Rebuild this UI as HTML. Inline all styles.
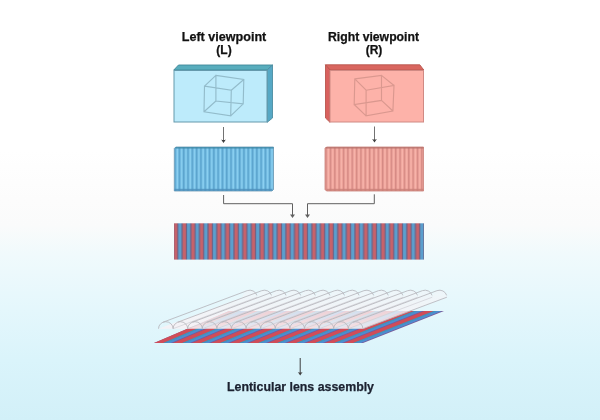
<!DOCTYPE html>
<html><head><meta charset="utf-8"><style>
html,body{margin:0;padding:0;}
body{width:600px;height:420px;overflow:hidden;position:relative;
background:linear-gradient(to bottom,#ffffff 0px,#ffffff 150px,#fcfcfc 200px,#fafbfb 225px,#f0fafc 255px,#e4f7fc 310px,#daf4fb 360px,#d2f0f8 420px);
font-family:"Liberation Sans",sans-serif;}
svg{position:absolute;left:0;top:0;will-change:transform;}
text{font-family:"Liberation Sans",sans-serif;font-weight:bold;stroke-width:0.25px;paint-order:stroke;}
</style></head><body>
<svg width="600" height="420" viewBox="0 0 600 420">
<text x="224" y="41" font-size="12" fill="#111" stroke="#111" text-anchor="middle" textLength="84.5" lengthAdjust="spacingAndGlyphs">Left viewpoint</text>
<text x="224" y="53.5" font-size="12" fill="#111" stroke="#111" text-anchor="middle" >(L)</text>
<text x="373.5" y="41" font-size="12" fill="#111" stroke="#111" text-anchor="middle" textLength="91" lengthAdjust="spacingAndGlyphs">Right viewpoint</text>
<text x="374" y="53.5" font-size="12" fill="#111" stroke="#111" text-anchor="middle" >(R)</text>
<polygon points="173.8,70 178.5,65 272.5,65 267.2,70" fill="#58adbd" stroke="#3f8898" stroke-width="0.9" stroke-linejoin="round"/>
<polygon points="267.2,70 272.5,65 272.5,118 267.2,122.3" fill="#56a8c5" stroke="#4d8da2" stroke-width="0.9" stroke-linejoin="round"/>
<rect x="174" y="70.5" width="93" height="51.5" fill="#bdebfb" stroke="#6599ac" stroke-width="1"/>
<path d="M204.5,86.1 L231.3,90.2 L230.7,115.8 L204,111.7 Z M215.9,75.4 L243.8,79.5 L243.2,103.9 L215.9,101 Z M204.5,86.1 L215.9,75.4 M231.3,90.2 L243.8,79.5 M230.7,115.8 L243.2,103.9 M204,111.7 L215.9,101 " fill="none" stroke="#93bccb" stroke-width="1.15"/>
<polygon points="325.5,64.8 419.8,64.8 423.8,70 330,70" fill="#d9665f" stroke="#b8574e" stroke-width="0.9" stroke-linejoin="round"/>
<polygon points="325.5,64.8 330,70 330,122.3 325.5,118" fill="#d8615e" stroke="#b8574e" stroke-width="0.9" stroke-linejoin="round"/>
<rect x="330" y="70.5" width="93.5" height="51.5" fill="#fdb2a9" stroke="#d08a84" stroke-width="1"/>
<path d="M366.1,90.2 L394,85.5 L392.9,111 L366.1,115.8 Z M354.8,78.9 L381.5,75.4 L381.5,100.4 L354.2,104.5 Z M366.1,90.2 L354.8,78.9 M394,85.5 L381.5,75.4 M392.9,111 L381.5,100.4 M366.1,115.8 L354.2,104.5 " fill="none" stroke="#da988f" stroke-width="1.15"/>
<line x1="223.5" y1="127" x2="223.5" y2="141" stroke="#6a6a6a" stroke-width="0.95"/>
<path d="M221.1,139.6 Q223.5,140.6 225.9,139.6 L223.5,143 Z" fill="#404040"/>
<line x1="374.5" y1="126.5" x2="374.5" y2="140.5" stroke="#6a6a6a" stroke-width="0.95"/>
<path d="M372.1,139.1 Q374.5,140.1 376.9,139.1 L374.5,142.5 Z" fill="#404040"/>
<defs><pattern id="pb" patternUnits="userSpaceOnUse" x="174.5" y="0" width="4.3" height="10"><rect width="4.3" height="10" fill="#72bce2"/><rect x="0" width="1.3" height="10" fill="#5ba3cd"/><rect x="2.2" width="1.2" height="10" fill="#8dd1f2"/></pattern><pattern id="pr" patternUnits="userSpaceOnUse" x="325.5" y="0" width="4.35" height="10"><rect width="4.35" height="10" fill="#eea39a"/><rect x="0" width="1.3" height="10" fill="#d58a84"/><rect x="2.2" width="1.2" height="10" fill="#f8b5ac"/></pattern><pattern id="pc" patternUnits="userSpaceOnUse" x="173.52" y="0" width="8.64" height="10"><rect width="8.64" height="10" fill="#c8626a"/><rect x="4.32" width="4.32" height="10" fill="#5b9fce"/><rect x="3.7" width="1.2" height="10" fill="#6e6285"/><rect x="8.0" width="1.2" height="10" fill="#6e6285"/><rect x="0" width="0.6" height="10" fill="#6e6285"/></pattern></defs>
<path d="M174.3,148.5 L175.8,147 L273.5,147 L273.5,189.5 L272,191 L174.3,191 Z" fill="url(#pb)" stroke="#6a97b3" stroke-width="0.8"/>
<rect x="175.5" y="147" width="98" height="1.6" fill="#3f8aa8" opacity="0.8"/>
<rect x="174.5" y="188.8" width="98" height="2" fill="#4d8fba" opacity="0.8"/>
<path d="M326.5,147 L423.5,147 L423.5,191 L326.5,191 L325,189.5 L325,148.5 Z" fill="url(#pr)" stroke="#c98078" stroke-width="0.8"/>
<rect x="325.5" y="147" width="98" height="1.6" fill="#b8746e" opacity="0.8"/>
<rect x="326.5" y="188.8" width="97" height="2" fill="#c98078" opacity="0.8"/>
<path d="M223.6,195 L223.6,203.7 L292.5,203.7 L292.5,216" fill="none" stroke="#606060" stroke-width="1"/>
<polygon points="290,214.5 295,214.5 292.5,218" fill="#606060"/>
<path d="M374.3,194.3 L374.3,203.7 L307.5,203.7 L307.5,216" fill="none" stroke="#606060" stroke-width="1"/>
<polygon points="305,214.5 310,214.5 307.5,218" fill="#606060"/>
<rect x="174" y="223.3" width="250" height="36.3" fill="url(#pc)"/>
<polygon points="154,343 363,343 444,311 229,311" fill="#7a5a98"/>
<polygon points="154,343 163.59,343 238.87,311 229,311" fill="#d04c58"/>
<polygon points="163.12,343 166.25,343 241.61,311 238.38,311" fill="#3a9cbc"/>
<polygon points="165.78,343 170.81,343 246.3,311 241.12,311" fill="#4a8fd2"/>
<polygon points="173,343 182.59,343 258.42,311 248.55,311" fill="#d04c58"/>
<polygon points="182.12,343 185.25,343 261.15,311 257.93,311" fill="#3a9cbc"/>
<polygon points="184.78,343 189.81,343 265.84,311 260.66,311" fill="#4a8fd2"/>
<polygon points="192,343 201.59,343 277.96,311 268.09,311" fill="#d04c58"/>
<polygon points="201.12,343 204.25,343 280.7,311 277.47,311" fill="#3a9cbc"/>
<polygon points="203.78,343 208.81,343 285.39,311 280.21,311" fill="#4a8fd2"/>
<polygon points="211,343 220.59,343 297.51,311 287.64,311" fill="#d04c58"/>
<polygon points="220.12,343 223.25,343 300.24,311 297.02,311" fill="#3a9cbc"/>
<polygon points="222.78,343 227.81,343 304.93,311 299.75,311" fill="#4a8fd2"/>
<polygon points="230,343 239.6,343 317.05,311 307.18,311" fill="#d04c58"/>
<polygon points="239.12,343 242.25,343 319.79,311 316.56,311" fill="#3a9cbc"/>
<polygon points="241.78,343 246.81,343 324.48,311 319.3,311" fill="#4a8fd2"/>
<polygon points="249,343 258.6,343 336.6,311 326.73,311" fill="#d04c58"/>
<polygon points="258.12,343 261.25,343 339.33,311 336.11,311" fill="#3a9cbc"/>
<polygon points="260.78,343 265.81,343 344.02,311 338.85,311" fill="#4a8fd2"/>
<polygon points="268,343 277.6,343 356.14,311 346.27,311" fill="#d04c58"/>
<polygon points="277.12,343 280.25,343 358.88,311 355.65,311" fill="#3a9cbc"/>
<polygon points="279.78,343 284.82,343 363.57,311 358.39,311" fill="#4a8fd2"/>
<polygon points="287,343 296.6,343 375.69,311 365.82,311" fill="#d04c58"/>
<polygon points="296.12,343 299.25,343 378.43,311 375.2,311" fill="#3a9cbc"/>
<polygon points="298.78,343 303.82,343 383.12,311 377.94,311" fill="#4a8fd2"/>
<polygon points="306,343 315.6,343 395.23,311 385.36,311" fill="#d04c58"/>
<polygon points="315.12,343 318.25,343 397.97,311 394.75,311" fill="#3a9cbc"/>
<polygon points="317.78,343 322.81,343 402.66,311 397.48,311" fill="#4a8fd2"/>
<polygon points="325,343 334.6,343 414.78,311 404.91,311" fill="#d04c58"/>
<polygon points="334.12,343 337.25,343 417.52,311 414.29,311" fill="#3a9cbc"/>
<polygon points="336.78,343 341.81,343 422.21,311 417.03,311" fill="#4a8fd2"/>
<polygon points="344,343 353.6,343 434.33,311 424.45,311" fill="#d04c58"/>
<polygon points="353.12,343 356.25,343 437.06,311 433.84,311" fill="#3a9cbc"/>
<polygon points="355.78,343 360.81,343 441.75,311 436.57,311" fill="#4a8fd2"/>
<defs><linearGradient id="lg" gradientUnits="userSpaceOnUse" x1="0" y1="290" x2="0" y2="329"><stop offset="0" stop-color="#f4f4f7" stop-opacity="0.45"/><stop offset="0.5" stop-color="#f5f3f6" stop-opacity="0.8"/><stop offset="1" stop-color="#f7f1f4" stop-opacity="0.9"/></linearGradient></defs>
<path d="M158.5,328.7 L242.5,297.2 A7.3,7 0 0 1 257.1,297.2 A7.3,7 0 0 1 271.7,297.2 A7.3,7 0 0 1 286.3,297.2 A7.3,7 0 0 1 300.9,297.2 A7.3,7 0 0 1 315.5,297.2 A7.3,7 0 0 1 330.1,297.2 A7.3,7 0 0 1 344.7,297.2 A7.3,7 0 0 1 359.3,297.2 A7.3,7 0 0 1 373.9,297.2 A7.3,7 0 0 1 388.5,297.2 A7.3,7 0 0 1 403.1,297.2 A7.3,7 0 0 1 417.7,297.2 A7.3,7 0 0 1 432.3,297.2 A7.3,7 0 0 1 446.9,297.2 L362.9,328.7 L158.5,328.7 Z" fill="url(#lg)"/>
<path d="M173.1,328.7 L257.1,297.2 M187.7,328.7 L271.7,297.2 M202.3,328.7 L286.3,297.2 M216.9,328.7 L300.9,297.2 M231.5,328.7 L315.5,297.2 M246.1,328.7 L330.1,297.2 M260.7,328.7 L344.7,297.2 M275.3,328.7 L359.3,297.2 M289.9,328.7 L373.9,297.2 M304.5,328.7 L388.5,297.2 M319.1,328.7 L403.1,297.2 M333.7,328.7 L417.7,297.2 M348.3,328.7 L432.3,297.2 " fill="none" stroke="#d2d2d8" stroke-width="0.8"/>
<path d="M158.5,328.7 A7.3,7 0 0 1 173.1,328.7 M247.18,290.66 A7.3,7 0 0 1 256.85,295.39 M163.14,322.18 L247.14,290.68 M173.1,328.7 A7.3,7 0 0 1 187.7,328.7 M261.78,290.66 A7.3,7 0 0 1 271.45,295.39 M177.74,322.18 L261.74,290.68 M187.7,328.7 A7.3,7 0 0 1 202.3,328.7 M276.38,290.66 A7.3,7 0 0 1 286.05,295.39 M192.34,322.18 L276.34,290.68 M202.3,328.7 A7.3,7 0 0 1 216.9,328.7 M290.98,290.66 A7.3,7 0 0 1 300.65,295.39 M206.94,322.18 L290.94,290.68 M216.9,328.7 A7.3,7 0 0 1 231.5,328.7 M305.58,290.66 A7.3,7 0 0 1 315.25,295.39 M221.54,322.18 L305.54,290.68 M231.5,328.7 A7.3,7 0 0 1 246.1,328.7 M320.18,290.66 A7.3,7 0 0 1 329.85,295.39 M236.14,322.18 L320.14,290.68 M246.1,328.7 A7.3,7 0 0 1 260.7,328.7 M334.78,290.66 A7.3,7 0 0 1 344.45,295.39 M250.74,322.18 L334.74,290.68 M260.7,328.7 A7.3,7 0 0 1 275.3,328.7 M349.38,290.66 A7.3,7 0 0 1 359.05,295.39 M265.34,322.18 L349.34,290.68 M275.3,328.7 A7.3,7 0 0 1 289.9,328.7 M363.98,290.66 A7.3,7 0 0 1 373.65,295.39 M279.94,322.18 L363.94,290.68 M289.9,328.7 A7.3,7 0 0 1 304.5,328.7 M378.58,290.66 A7.3,7 0 0 1 388.25,295.39 M294.54,322.18 L378.54,290.68 M304.5,328.7 A7.3,7 0 0 1 319.1,328.7 M393.18,290.66 A7.3,7 0 0 1 402.85,295.39 M309.14,322.18 L393.14,290.68 M319.1,328.7 A7.3,7 0 0 1 333.7,328.7 M407.78,290.66 A7.3,7 0 0 1 417.45,295.39 M323.74,322.18 L407.74,290.68 M333.7,328.7 A7.3,7 0 0 1 348.3,328.7 M422.38,290.66 A7.3,7 0 0 1 432.05,295.39 M338.34,322.18 L422.34,290.68 M348.3,328.7 A7.3,7 0 0 1 362.9,328.7 M436.98,290.66 A7.3,7 0 0 1 446.65,295.39 M352.94,322.18 L436.94,290.68 M362.9,328.7 L446.9,297.2 " fill="none" stroke="#b6b6bc" stroke-width="0.85"/>
<line x1="300.2" y1="358" x2="300.2" y2="373.5" stroke="#333" stroke-width="0.95"/>
<path d="M297.8,372.1 Q300.2,373.1 302.6,372.1 L300.2,375.5 Z" fill="#404040"/>
<text x="300.5" y="391" font-size="12" fill="#1b2130" stroke="#1b2130" text-anchor="middle" textLength="147" lengthAdjust="spacingAndGlyphs">Lenticular lens assembly</text>
</svg>
</body></html>
